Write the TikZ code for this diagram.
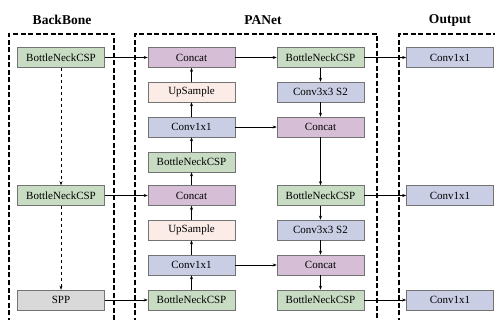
\documentclass[tikz,border=0pt]{standalone}
\usepackage{fontspec}
\setmainfont{Liberation Serif}
\usetikzlibrary{arrows.meta}
\definecolor{csp}{RGB}{200,220,196}
\definecolor{cat}{RGB}{214,190,214}
\definecolor{ups}{RGB}{252,236,232}
\definecolor{cnv}{RGB}{201,206,228}
\definecolor{spp}{RGB}{217,217,217}
\tikzset{
  blk/.style={draw=black!55, line width=0.6pt, minimum width=87pt, minimum height=20pt,
    inner sep=0pt, font=\fontsize{11}{12}\selectfont},
  cspbox/.style={blk, fill=csp},
  catbox/.style={blk, fill=cat},
  upsbox/.style={blk, fill=ups},
  cnvbox/.style={blk, fill=cnv},
  sppbox/.style={blk, fill=spp},
  region/.style={dashed, line width=1.1pt, dash pattern=on 5pt off 2.5pt},
  flow/.style={-{Stealth[length=4pt,width=3pt]}, line width=0.5pt},
  title/.style={font=\fontsize{13.5}{15}\selectfont\bfseries}
}
\begin{document}
\begin{tikzpicture}[x=1pt,y=-1pt]
\useasboundingbox (0,0) rectangle (495,320);
\clip (0,0) rectangle (495,320);
\fill[white] (0,0) rectangle (495,320);
% regions
\draw[region] (9,330) -- (9,34) -- (114,34) -- (114,330);
\draw[region] (135,330) -- (135,34) -- (377,34) -- (377,330);
\draw[region] (399,330) -- (399,34) -- (505,34);
\node[title] at (62,20) {BackBone};
\node[title] at (263,20) {PANet};
\node[title] at (450,20) {Output};
% backbone
\node[cspbox] (bb1) at (61,57.5) {BottleNeckCSP};
\node[cspbox] (bb2) at (61,195.5) {BottleNeckCSP};
\node[sppbox] (spp) at (61,300) {SPP};
% panet, up path
\node[catbox] (cat1) at (191.5,57.5) {Concat};
\node[upsbox] (up1) at (191.5,92) {UpSample};
\node[cnvbox] (cv1) at (191.5,127) {Conv1x1};
\node[cspbox] (csp1) at (191.5,162) {BottleNeckCSP};
\node[catbox] (cat2) at (191.5,195.5) {Concat};
\node[upsbox] (up2) at (191.5,230) {UpSample};
\node[cnvbox] (cv2) at (191.5,265) {Conv1x1};
\node[cspbox] (csp2) at (191.5,300) {BottleNeckCSP};
% panet, down path
\node[cspbox] (csp3) at (320.5,57.5) {BottleNeckCSP};
\node[cnvbox] (dn1) at (320.5,92) {Conv3x3 S2};
\node[catbox] (cat3) at (320.5,127) {Concat};
\node[cspbox] (csp4) at (320.5,195.5) {BottleNeckCSP};
\node[cnvbox] (dn2) at (320.5,230) {Conv3x3 S2};
\node[catbox] (cat4) at (320.5,265) {Concat};
\node[cspbox] (csp5) at (320.5,300) {BottleNeckCSP};
% output
\node[cnvbox] (out1) at (450,57.5) {Conv1x1};
\node[cnvbox] (out2) at (450,195.5) {Conv1x1};
\node[cnvbox] (out3) at (450,300) {Conv1x1};
% connections
\draw[flow, dashed] (bb1) -- (bb2);
\draw[flow, dashed] (bb2) -- (spp);
\draw[flow] (bb1) -- (cat1);
\draw[flow] (bb2) -- (cat2);
\draw[flow] (spp) -- (csp2);
\draw[flow] (csp2) -- (cv2);
\draw[flow] (cv2) -- (up2);
\draw[flow] (up2) -- (cat2);
\draw[flow] (cat2) -- (csp1);
\draw[flow] (csp1) -- (cv1);
\draw[flow] (cv1) -- (up1);
\draw[flow] (up1) -- (cat1);
\draw[flow] (cat1) -- (csp3);
\draw[flow] (cv1) -- (cat3);
\draw[flow] (cv2) -- (cat4);
\draw[flow] (csp3) -- (dn1);
\draw[flow] (dn1) -- (cat3);
\draw[flow] (cat3) -- (csp4);
\draw[flow] (csp4) -- (dn2);
\draw[flow] (dn2) -- (cat4);
\draw[flow] (cat4) -- (csp5);
\draw[flow] (csp3) -- (out1);
\draw[flow] (csp4) -- (out2);
\draw[flow] (csp5) -- (out3);
\end{tikzpicture}
\end{document}
